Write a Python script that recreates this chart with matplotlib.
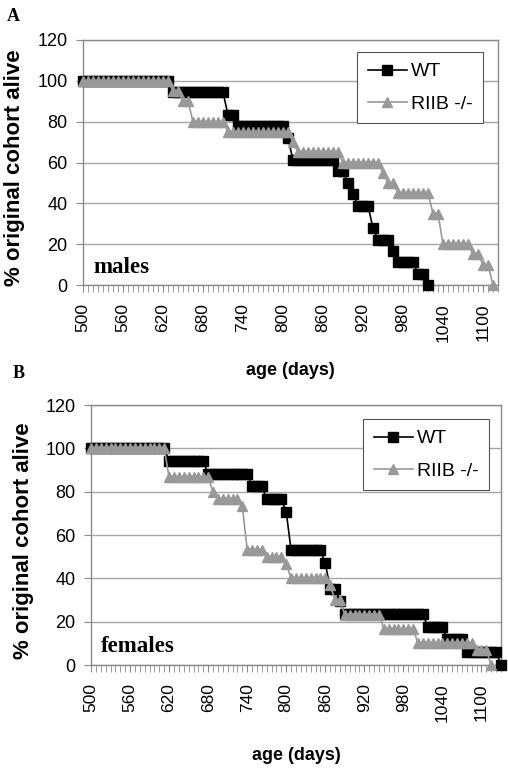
import matplotlib
matplotlib.use('Agg')
import matplotlib.pyplot as plt
from matplotlib.ticker import FixedLocator, MultipleLocator
import numpy as np

NAN = np.nan

# =============================================================================
# DATA  (one value per x category; categories are 7.5 days apart,
#        a label is printed on every 8th category)
# =============================================================================

AGE_LABELS = ['500', '560', '620', '680', '740', '800', '860', '920', '980', '1040', '1100']
LABEL_EVERY = 8
SERIES_NAMES = ['WT', 'RIIB -/-']

# panel A - males (84 categories)
MALES_WT = ([100.0] * 18 + [94.4] * 11 + [83.3] * 2 + [77.8] * 10 + [72.2] +
            [61.1] * 9 + [55.6] * 2 + [50.0] + [44.4] + [38.9] * 3 + [27.8] +
            [22.2] * 3 + [16.7] + [11.1] * 4 + [5.6] * 2 + [0.0] + [NAN] * 14)
MALES_RIIB = ([100.0] * 18 + [95.0] * 2 + [90.0] * 2 + [80.0] * 7 + [75.0] * 13 +
              [70.0] + [65.0] * 9 + [60.0] * 8 + [55.0] + [50.0] * 2 + [45.0] * 7 +
              [35.0] * 2 + [20.0] * 6 + [15.0] * 2 + [10.0] * 2 + [0.0] + [NAN])

# panel B - females (85 categories)
FEMALES_WT = ([100.0] * 16 + [94.1] * 8 + [88.2] * 9 + [82.4] * 3 + [76.5] * 4 +
              [70.6] + [52.9] * 7 + [47.1] + [35.3] * 2 + [29.4] + [23.5] * 17 +
              [17.6] * 4 + [11.8] * 4 + [5.9] * 7 + [0.0])
FEMALES_RIIB = ([100.0] * 16 + [86.7] * 9 + [80.0] + [76.7] * 5 + [73.3] +
                [53.3] * 4 + [50.0] * 4 + [46.7] + [40.0] * 8 + [36.7] + [30.0] * 2 +
                [23.3] * 8 + [16.7] * 7 + [10.0] * 12 + [6.7] * 3 + [0.0] + [NAN] * 2)

# =============================================================================
# STYLE
# =============================================================================

COLORS = {
    'wt': '#000000',
    'riib': '#999999',
    'grid': '#a6a6a6',
    'frame': '#8a8a8a',
    'legend_edge': '#555555',
}
SANS = ['Liberation Sans', 'DejaVu Sans']
SERIF = ['Liberation Serif', 'DejaVu Serif']


def style_axis(ax, n_cat):
    ax.set_xlim(0, n_cat - 1)
    ax.set_ylim(0, 120)
    ax.set_yticks(range(0, 121, 20))
    ax.xaxis.set_major_locator(FixedLocator(range(0, LABEL_EVERY * len(AGE_LABELS), LABEL_EVERY)))
    ax.xaxis.set_minor_locator(MultipleLocator(1))
    ax.set_xticklabels(AGE_LABELS, rotation=90, fontfamily=SANS, fontsize=12.5)
    for lab in ax.get_yticklabels():
        lab.set_fontfamily(SANS)
        lab.set_fontsize(13)
    ax.tick_params(axis='x', which='both', direction='out', length=5,
                   color=COLORS['frame'], pad=8)
    ax.tick_params(axis='y', direction='out', length=5, color=COLORS['frame'], pad=6)
    for sp in ax.spines.values():
        sp.set_color(COLORS['frame'])
        sp.set_linewidth(1.0)
    ax.yaxis.grid(True, color=COLORS['grid'], linewidth=1.0)
    ax.set_axisbelow(True)


def draw_panel(ax, wt, riib, sex_label, legend_anchor, ylabel_x):
    n_cat = len(wt)
    cats = np.arange(n_cat)
    style_axis(ax, n_cat)

    ax.plot(cats, wt, color=COLORS['wt'], lw=1.2, marker='s', ms=6.5,
            mfc=COLORS['wt'], mec=COLORS['wt'], label=SERIES_NAMES[0], clip_on=False, zorder=3)
    ax.plot(cats, riib, color=COLORS['riib'], lw=1.2, marker='^', ms=7,
            mfc=COLORS['riib'], mec=COLORS['riib'], label=SERIES_NAMES[1], clip_on=False, zorder=4)

    ax.set_ylabel('% original cohort alive', fontfamily=SANS, fontsize=16, fontweight='bold')
    ax.yaxis.set_label_coords(ylabel_x, 0.48)
    ax.set_xlabel('age (days)', fontfamily=SANS, fontsize=13, fontweight='bold')
    ax.xaxis.set_label_coords(0.5, -0.315)

    ax.text(0.025, 0.05, sex_label, transform=ax.transAxes, fontfamily=SERIF,
            fontsize=16.5, fontweight='bold', ha='left', va='baseline')

    leg = ax.legend(loc='upper right', bbox_to_anchor=legend_anchor, frameon=True,
                    fancybox=False, framealpha=1, edgecolor=COLORS['legend_edge'],
                    prop={'family': SANS, 'size': 14}, handlelength=2.0,
                    handletextpad=0.2, labelspacing=0.75, borderpad=0.55,
                    borderaxespad=0)
    leg.get_frame().set_linewidth(0.8)


fig = plt.figure(figsize=(5.08, 7.73), dpi=100, facecolor='white')

axA = fig.add_axes([83 / 508, 1 - 285 / 773, 415 / 508, 245 / 773])
draw_panel(axA, MALES_WT, MALES_RIIB, 'males', (0.964, 0.951), -0.14)

axB = fig.add_axes([91 / 508, 1 - 665 / 773, 410 / 508, 260 / 773])
draw_panel(axB, FEMALES_WT, FEMALES_RIIB, 'females', (0.971, 0.946), -0.139)

fig.text(7 / 508, 1 - 21 / 773, 'A', fontfamily=SERIF, fontsize=13, fontweight='bold')
fig.text(13 / 508, 1 - 378 / 773, 'B', fontfamily=SERIF, fontsize=13, fontweight='bold')

fig.savefig('out.png', dpi=100, facecolor='white')
